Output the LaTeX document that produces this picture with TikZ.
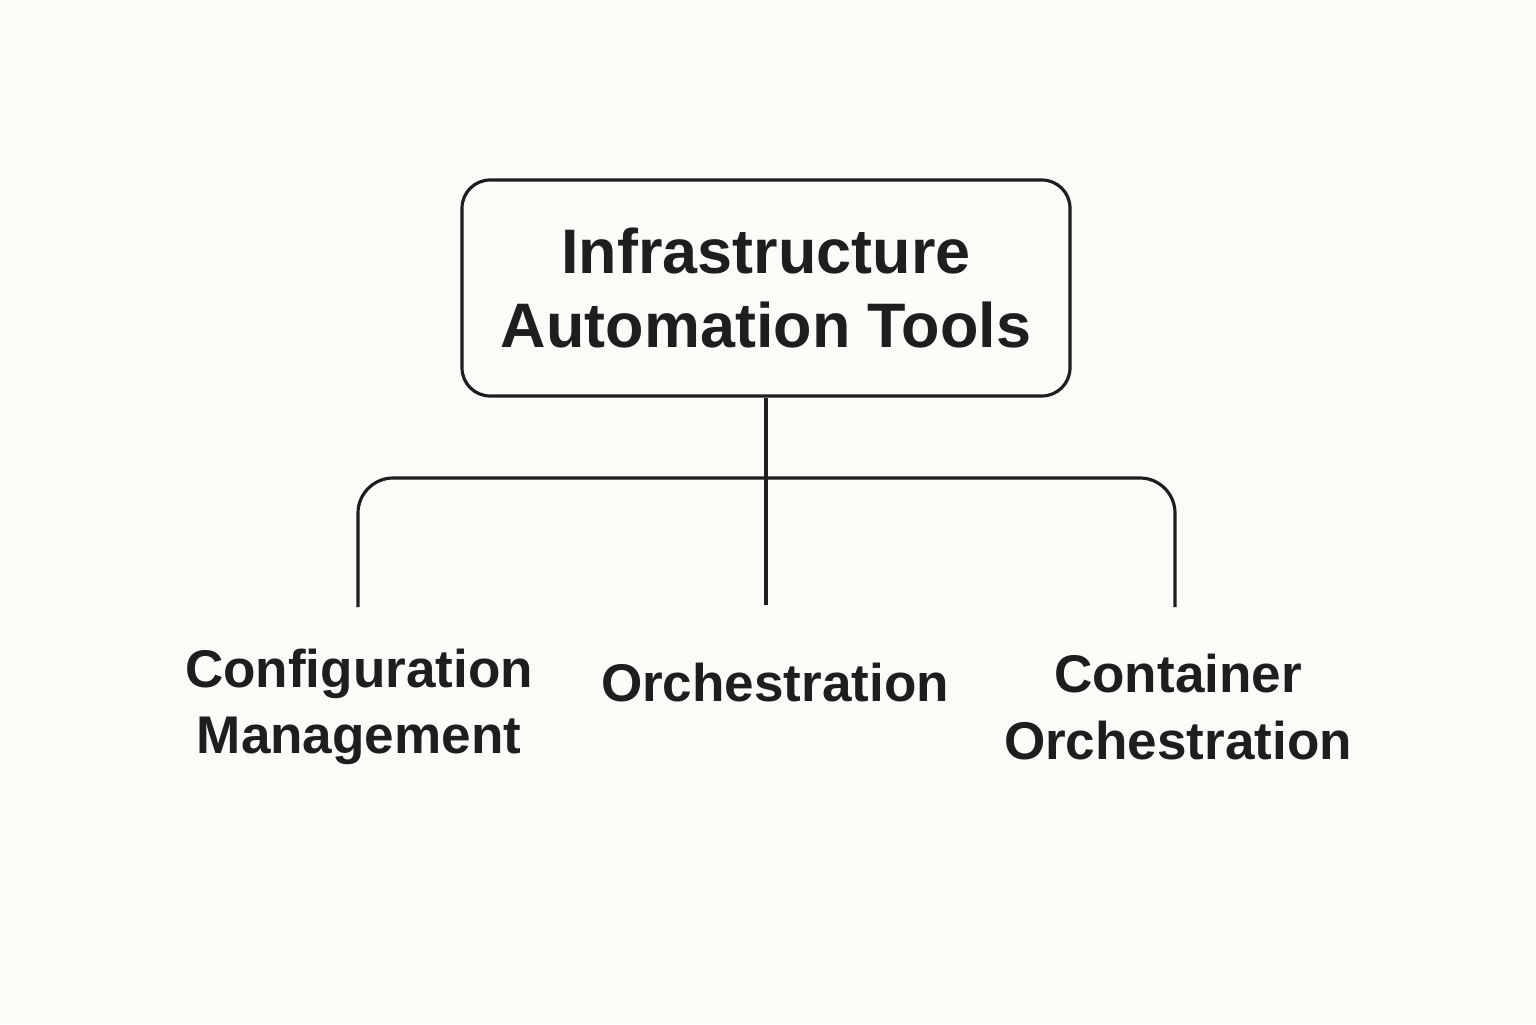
\documentclass[tikz,border=0pt]{standalone}
\usepackage{fontspec}
\setmainfont{Liberation Sans}
\definecolor{inkdark}{RGB}{28, 30, 32}
\definecolor{paper}{RGB}{252, 251, 248}
\usetikzlibrary{positioning}

\begin{document}
\begin{tikzpicture}[
  rootbox/.style={draw=inkdark, line width=0.9pt, rounded corners=8pt, minimum width=6.08cm, minimum height=2.16cm, align=center, text=inkdark, font=\fontsize{17.9}{21.3}\selectfont\bfseries},
  leaf/.style={align=center, text=inkdark, font=\fontsize{15.1}{18.8}\selectfont\bfseries},
  link/.style={draw=inkdark, line width=0.9pt}
]
  \fill[paper] (0,0) rectangle (15.36,10.24);
  \useasboundingbox (0,0) rectangle (15.36,10.24);

  \node[rootbox] (root) at (7.66, 7.36) {Infrastructure\\Automation Tools};

  \node[leaf] (config) at (3.59, 3.17) {Configuration\\Management};
  \node[leaf] (orch) at (7.75, 3.41) {Orchestration};
  \node[leaf] (container) at (11.78, 3.17) {Container\\Orchestration};

  % branch ends above the labels
  \coordinate (hub) at (7.66, 5.46);
  \coordinate (configend) at (3.58, 4.17);
  \coordinate (orchend) at (7.66, 4.19);
  \coordinate (containerend) at (11.75, 4.17);

  \draw[link] (root.south) -- (orchend);
  \draw[link, rounded corners=10pt] (configend) |- (hub) -| (containerend);
\end{tikzpicture}
\end{document}
